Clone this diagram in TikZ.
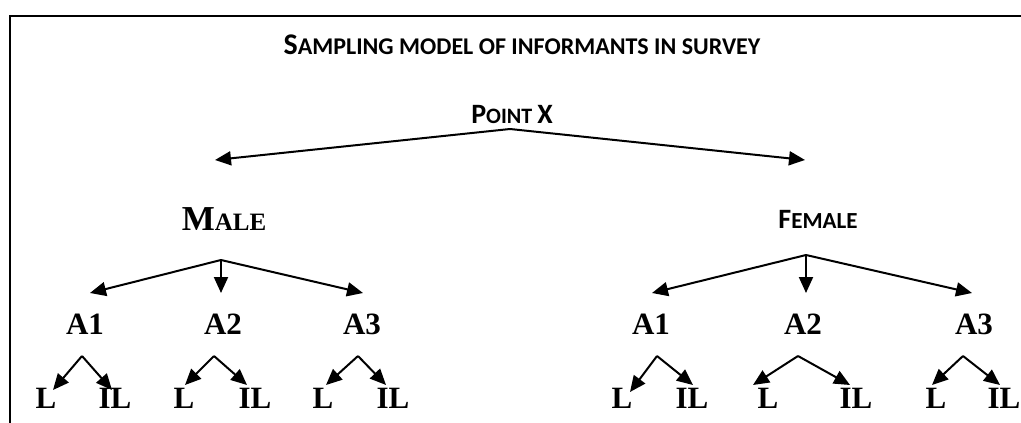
\documentclass[tikz,border=0pt]{standalone}
\usepackage{fontspec}
\usetikzlibrary{arrows.meta}
\newfontfamily\carlito{Carlito}
\newfontfamily\serifbold{Liberation Serif}
\newcommand{\sclet}[2]{{\fontsize{#1}{#1}\selectfont #2}}
\tikzset{
  sanslbl/.style={font=\carlito\bfseries, inner sep=0pt},
  seriflbl/.style={font=\serifbold\bfseries\fontsize{31}{31}\selectfont, inner sep=0pt},
  arr/.style={-{Triangle[length=16pt,width=14pt]}, line width=2pt},
}
\begin{document}
\begin{tikzpicture}[x=1pt,y=-1pt]
\useasboundingbox (0,0) rectangle (1021,423);
\draw[line width=2pt] (10,423) -- (10,16) -- (1021,16);
% headings
\node[sanslbl] (title) at (522,45) {\sclet{30}{S}\sclet{24}{AMPLING MODEL OF INFORMANTS IN SURVEY}};
\node[sanslbl] (pointx) at (512,114) {\sclet{28}{P}\sclet{22}{OINT\ }\sclet{28}{X}};
\node[seriflbl] (male) at (224,219) {\sclet{35}{M}\sclet{25}{ALE}};
\node[sanslbl] (female) at (818,219) {\sclet{28}{F}\sclet{23}{EMALE}};
\coordinate (top) at (510,129);
\coordinate (topl) at (215,160);
\coordinate (topr) at (805,160);
\draw[arr] (top) -- (topl);
\draw[arr] (top) -- (topr);
% age groups
\coordinate (mjoin) at (221,260);
\coordinate (fjoin) at (806,255);
\foreach \s/\j/\x/\tx/\t in {m1/mjoin/85/90/A1,m2/mjoin/223/221/A2,m3/mjoin/362/363/A3,
  f1/fjoin/651/652/A1,f2/fjoin/803/806/A2,f3/fjoin/974/972/A3}{
  \node[seriflbl] (\s) at (\x,324) {\t};
  \coordinate (\s tip) at (\tx,293);
  \draw[arr] (\j) -- (\s tip);
}
% L / IL
\foreach \s/\ax/\lx/\ilx/\ltx/\ly/\rtx/\ry in {m1/82/46/115/53/390/112/390,
  m2/214/184/255/185/385/247/385,m3/358/323/393/326/385/386/385,
  f1/657/622/692/630/392/693/385,f2/798/768/856/753/385/850/385,
  f3/963/936/1004/932/385/1000/385}{
  \node[seriflbl] (\s L) at (\lx,398) {L};
  \node[seriflbl] (\s IL) at (\ilx,398) {IL};
  \coordinate (\s j) at (\ax,356);
  \coordinate (\s lt) at (\ltx,\ly);
  \coordinate (\s rt) at (\rtx,\ry);
  \draw[arr] (\s j) -- (\s lt);
  \draw[arr] (\s j) -- (\s rt);
}
\end{tikzpicture}
\end{document}
